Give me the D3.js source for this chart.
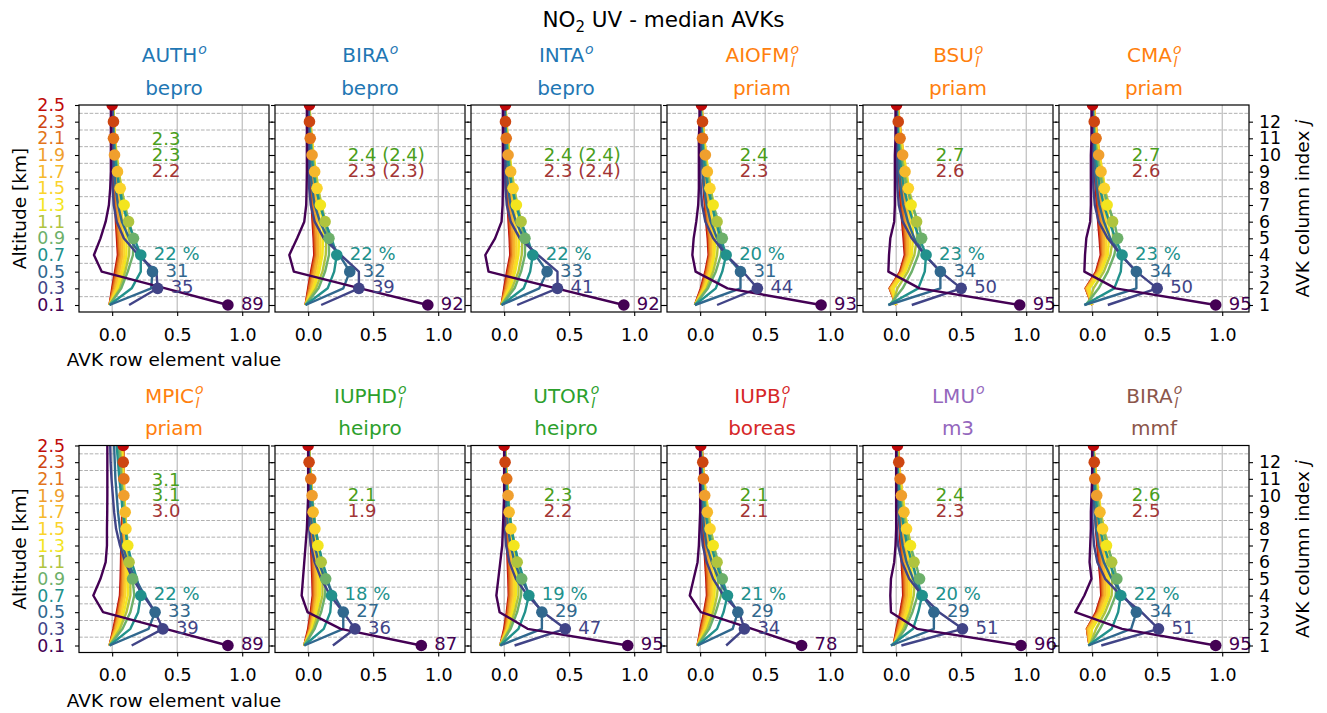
<!DOCTYPE html>
<html>
<head>
<meta charset="utf-8">
<script src="https://cdn.jsdelivr.net/npm/d3@7"></script>
<style>
  body { margin: 0; background: #fff; }
  text { font-family: "DejaVu Sans", sans-serif; }
</style>
</head>
<body>
<svg width="1327" height="713"></svg>
<script>
// layer centres and layer boundaries [km]
const altitudes = [0.1, 0.3, 0.5, 0.7, 0.9, 1.1, 1.3, 1.5, 1.7, 1.9, 2.1, 2.3, 2.5];
const boundaries = [0.2, 0.4, 0.6, 0.8, 1.0, 1.2, 1.4, 1.6, 1.8, 2.0, 2.2, 2.4];
const columnIndex = [1, 2, 3, 4, 5, 6, 7, 8, 9, 10, 11, 12];
const xTicks = [0.0, 0.5, 1.0];
const levelColors = ["#440154", "#414487", "#31688e", "#21918c", "#6db06a", "#b0c43e", "#f3e51e",
                     "#fbd42c", "#f6b92b", "#f09f2e", "#e2751b", "#cd4511", "#c00a0a"];

const panelNames = ["AUTH", "BIRA", "INTA", "AIOFM", "BSU", "CMA", "MPIC", "IUPHD", "UTOR", "IUPB", "LMU", "BIRA"];
const panelSub = [false, false, false, true, true, true, true, true, true, true, false, true];
const panelMethod = ["bepro", "bepro", "bepro", "priam", "priam", "priam", "priam", "heipro", "heipro", "boreas", "m3", "mmf"];
const methodColors = {bepro: "#1f77b4", priam: "#ff7f0e", heipro: "#2ca02c", boreas: "#d62728", m3: "#9467bd", mmf: "#8c564b"};
const dofsText = [
  ["2.3", "2.3", "2.2"], ["2.4 (2.4)", "2.3 (2.3)"], ["2.4 (2.4)", "2.3 (2.4)"], ["2.4", "2.3"], ["2.7", "2.6"], ["2.7", "2.6"],
  ["3.1", "3.1", "3.0"], ["2.1", "1.9"], ["2.3", "2.2"], ["2.1", "2.1"], ["2.4", "2.3"], ["2.6", "2.5"]
];
// diagonal labels for the four lowest layers (0.7, 0.5, 0.3, 0.1 km)
const diagLabels = [
  ["22 %", "31", "35", "89"], ["22 %", "32", "39", "92"], ["22 %", "33", "41", "92"], ["20 %", "31", "44", "93"],
  ["23 %", "34", "50", "95"], ["23 %", "34", "50", "95"], ["22 %", "33", "39", "89"], ["18 %", "27", "36", "87"],
  ["19 %", "29", "47", "95"], ["21 %", "29", "34", "78"], ["20 %", "29", "51", "96"], ["22 %", "34", "51", "95"]
];

// AVK rows (rows 0.1 .. 0.7 km), values at each altitude 0.1 .. 2.5 km
const lowAUTH = [
  [0.89, 0.41, -0.08, -0.14, -0.09, -0.05, -0.025, -0.015, -0.01, -0.01, -0.01, -0.01, -0.01],
  [0.13, 0.35, 0.34, 0.2, 0.09, 0.035, 0.012, 0.004, 0, 0, 0, 0, 0],
  [-0.02, 0.3, 0.31, 0.22, 0.13, 0.075, 0.045, 0.027, 0.016, 0.009, 0.005, 0.003, 0],
  [-0.02, 0.15, 0.22, 0.22, 0.17, 0.12, 0.08, 0.055, 0.035, 0.02, 0.012, 0.007, 0.003]
];
const lowBIRA = [
  [0.92, 0.40, -0.11, -0.145, -0.085, -0.03, -0.015, -0.012, -0.01, -0.01, -0.01, -0.01, -0.01],
  [0.10, 0.39, 0.39, 0.25, 0.12, 0.05, 0.02, 0.008, 0.003, 0, 0, 0, 0],
  [-0.02, 0.27, 0.32, 0.24, 0.15, 0.09, 0.05, 0.03, 0.018, 0.01, 0.005, 0.003, 0],
  [-0.02, 0.15, 0.2, 0.22, 0.18, 0.13, 0.09, 0.06, 0.04, 0.025, 0.015, 0.008, 0.004]
];
const lowINTA = [
  [0.92, 0.40, -0.12, -0.145, -0.07, -0.02, -0.012, -0.01, -0.01, -0.01, -0.01, -0.01, -0.01],
  [0.10, 0.41, 0.41, 0.26, 0.12, 0.05, 0.02, 0.01, 0.005, 0, 0, 0, 0],
  [-0.02, 0.27, 0.33, 0.24, 0.15, 0.09, 0.05, 0.03, 0.02, 0.01, 0.005, 0.005, 0],
  [-0.02, 0.15, 0.2, 0.22, 0.18, 0.13, 0.09, 0.06, 0.04, 0.025, 0.015, 0.01, 0.005]
];
const lowAIOFM = [
  [0.93, 0.21, -0.035, -0.06, -0.05, -0.03, -0.015, -0.01, -0.01, -0.01, -0.01, -0.005, -0.005],
  [0.13, 0.44, 0.33, 0.2, 0.1, 0.04, 0.015, 0.005, 0, 0, 0, 0, 0],
  [-0.04, 0.31, 0.31, 0.2, 0.13, 0.08, 0.05, 0.03, 0.02, 0.01, 0.005, 0.002, 0],
  [-0.04, 0.12, 0.17, 0.2, 0.16, 0.12, 0.09, 0.06, 0.04, 0.025, 0.015, 0.008, 0.004]
];
const lowBSU = [
  [0.95, 0.18, -0.06, -0.055, -0.045, -0.015, -0.01, -0.01, -0.01, -0.01, -0.005, -0.005, -0.005],
  [0.12, 0.50, 0.34, 0.22, 0.12, 0.05, 0.02, 0.01, 0.005, 0, 0, 0, 0],
  [-0.06, 0.34, 0.34, 0.22, 0.14, 0.09, 0.055, 0.035, 0.022, 0.012, 0.006, 0.003, 0],
  [-0.06, 0.17, 0.22, 0.23, 0.18, 0.13, 0.09, 0.06, 0.04, 0.025, 0.015, 0.008, 0.004]
];
const lowCMA = [
  [0.95, 0.18, -0.06, -0.055, -0.045, -0.015, -0.01, -0.01, -0.01, -0.01, -0.005, -0.005, -0.005],
  [0.12, 0.50, 0.34, 0.22, 0.12, 0.05, 0.02, 0.01, 0.005, 0, 0, 0, 0],
  [-0.06, 0.34, 0.34, 0.22, 0.14, 0.09, 0.055, 0.035, 0.022, 0.012, 0.006, 0.003, 0],
  [-0.06, 0.17, 0.22, 0.23, 0.18, 0.13, 0.09, 0.06, 0.04, 0.025, 0.015, 0.008, 0.004]
];
const lowMPIC = [
  [0.89, 0.41, -0.07, -0.145, -0.09, -0.05, -0.04, -0.04, -0.038, -0.037, -0.037, -0.037, -0.037],
  [0.15, 0.39, 0.33, 0.24, 0.16, 0.1, 0.06, 0.03, 0.015, 0.005, -0.005, -0.012, -0.015],
  [-0.02, 0.28, 0.33, 0.25, 0.18, 0.12, 0.08, 0.06, 0.045, 0.035, 0.025, 0.02, 0.015],
  [-0.02, 0.14, 0.2, 0.22, 0.19, 0.15, 0.12, 0.1, 0.08, 0.07, 0.055, 0.045, 0.035]
];
const lowIUPHD = [
  [0.87, 0.25, -0.005, -0.05, -0.04, -0.03, -0.02, -0.01, -0.005, 0, 0, 0, 0],
  [0.19, 0.36, 0.27, 0.17, 0.1, 0.05, 0.02, 0.008, 0.003, 0, 0, 0, 0],
  [-0.03, 0.27, 0.27, 0.2, 0.13, 0.08, 0.05, 0.03, 0.02, 0.01, 0.005, 0.002, 0],
  [-0.03, 0.12, 0.17, 0.18, 0.15, 0.11, 0.08, 0.055, 0.04, 0.025, 0.015, 0.008, 0.004]
];
const lowUTOR = [
  [0.95, 0.18, -0.035, -0.06, -0.045, -0.03, -0.015, -0.01, -0.005, 0, 0, 0, 0],
  [0.08, 0.47, 0.3, 0.18, 0.09, 0.04, 0.015, 0.005, 0, 0, 0, 0, 0],
  [-0.03, 0.29, 0.29, 0.2, 0.13, 0.08, 0.05, 0.03, 0.02, 0.01, 0.005, 0.002, 0],
  [-0.03, 0.11, 0.16, 0.19, 0.15, 0.11, 0.08, 0.055, 0.04, 0.025, 0.015, 0.008, 0.004]
];
const lowIUPB = [
  [0.78, 0.40, 0.005, -0.08, -0.05, -0.02, -0.01, -0.005, 0, 0, 0, 0, 0],
  [0.2, 0.34, 0.3, 0.18, 0.1, 0.05, 0.02, 0.008, 0.003, 0, 0, 0, 0],
  [-0.02, 0.25, 0.29, 0.21, 0.14, 0.09, 0.05, 0.03, 0.02, 0.01, 0.005, 0.002, 0],
  [-0.02, 0.13, 0.18, 0.21, 0.17, 0.12, 0.085, 0.06, 0.04, 0.025, 0.015, 0.008, 0.004]
];
const lowLMU = [
  [0.96, 0.16, -0.04, -0.045, -0.04, -0.015, -0.005, 0, 0, 0, 0, 0, 0],
  [0.04, 0.51, 0.33, 0.2, 0.1, 0.045, 0.015, 0.005, 0, 0, 0, 0, 0],
  [-0.04, 0.29, 0.29, 0.2, 0.13, 0.08, 0.05, 0.03, 0.02, 0.01, 0.005, 0.002, 0],
  [-0.04, 0.13, 0.17, 0.2, 0.16, 0.12, 0.085, 0.06, 0.04, 0.025, 0.015, 0.008, 0.004]
];
const lowMMF = [
  [0.95, 0.23, -0.13, -0.06, -0.005, -0.02, -0.015, -0.01, -0.01, -0.005, 0, 0, 0],
  [0.07, 0.51, 0.38, 0.22, 0.1, 0.04, 0.015, 0.005, 0, 0, 0, 0, 0],
  [-0.03, 0.3, 0.34, 0.24, 0.15, 0.09, 0.05, 0.03, 0.02, 0.01, 0.005, 0, 0],
  [-0.03, 0.15, 0.2, 0.22, 0.18, 0.13, 0.09, 0.06, 0.04, 0.025, 0.015, 0.01, 0.005]
];

// AVK rows (rows 0.9 .. 2.5 km)
const fanAUTH = [
  [-0.02, 0.07, 0.12, 0.16, 0.164, 0.13, 0.09, 0.06, 0.04, 0.025, 0.015, 0.01, 0.005],
  [-0.02, 0.06, 0.1, 0.13, 0.135, 0.126, 0.1, 0.07, 0.05, 0.03, 0.018, 0.01, 0.005],
  [-0.02, 0.045, 0.085, 0.11, 0.11, 0.105, 0.092, 0.072, 0.052, 0.034, 0.02, 0.012, 0.006],
  [-0.02, 0.035, 0.07, 0.095, 0.09, 0.08, 0.07, 0.062, 0.05, 0.034, 0.022, 0.013, 0.006],
  [-0.02, 0.025, 0.055, 0.08, 0.075, 0.064, 0.054, 0.047, 0.041, 0.032, 0.021, 0.013, 0.006],
  [-0.02, 0.018, 0.045, 0.068, 0.06, 0.05, 0.04, 0.032, 0.025, 0.018, 0.014, 0.01, 0.005],
  [-0.02, 0.01, 0.035, 0.058, 0.05, 0.04, 0.032, 0.024, 0.018, 0.013, 0.01, 0.008, 0.004],
  [-0.02, 0.005, 0.028, 0.05, 0.043, 0.034, 0.026, 0.019, 0.014, 0.011, 0.01, 0.01, 0.004],
  [-0.02, 0.0, 0.022, 0.044, 0.037, 0.029, 0.022, 0.016, 0.011, 0.008, 0.005, 0.003, 0.0]
];
const fanBepro = [
  [-0.02, 0.08, 0.13, 0.16, 0.16, 0.13, 0.095, 0.065, 0.045, 0.03, 0.02, 0.01, 0.005],
  [-0.02, 0.06, 0.11, 0.135, 0.14, 0.13, 0.105, 0.075, 0.055, 0.035, 0.02, 0.012, 0.006],
  [-0.02, 0.045, 0.085, 0.11, 0.115, 0.11, 0.094, 0.078, 0.06, 0.04, 0.025, 0.015, 0.008],
  [-0.02, 0.035, 0.07, 0.095, 0.095, 0.085, 0.077, 0.068, 0.056, 0.042, 0.028, 0.017, 0.009],
  [-0.02, 0.025, 0.055, 0.08, 0.08, 0.07, 0.062, 0.056, 0.05, 0.04, 0.028, 0.018, 0.01],
  [-0.02, 0.018, 0.045, 0.07, 0.066, 0.058, 0.05, 0.042, 0.036, 0.03, 0.024, 0.016, 0.01],
  [-0.02, 0.01, 0.035, 0.06, 0.056, 0.048, 0.04, 0.032, 0.026, 0.021, 0.016, 0.013, 0.01],
  [-0.02, 0.005, 0.028, 0.053, 0.048, 0.04, 0.033, 0.026, 0.02, 0.016, 0.013, 0.01, 0.01],
  [-0.02, 0.0, 0.022, 0.047, 0.042, 0.034, 0.027, 0.021, 0.016, 0.013, 0.011, 0.01, 0.01]
];
const fanAIOFM = [
  [-0.04, 0.06, 0.12, 0.16, 0.17, 0.14, 0.1, 0.07, 0.05, 0.03, 0.02, 0.01, 0.005],
  [-0.04, 0.05, 0.1, 0.13, 0.14, 0.13, 0.105, 0.08, 0.055, 0.035, 0.022, 0.012, 0.006],
  [-0.04, 0.04, 0.085, 0.11, 0.115, 0.11, 0.1, 0.082, 0.062, 0.042, 0.026, 0.015, 0.008],
  [-0.04, 0.03, 0.075, 0.1, 0.1, 0.09, 0.082, 0.075, 0.062, 0.046, 0.03, 0.018, 0.01],
  [-0.04, 0.025, 0.065, 0.09, 0.088, 0.076, 0.066, 0.06, 0.055, 0.045, 0.032, 0.02, 0.01],
  [-0.04, 0.02, 0.058, 0.082, 0.078, 0.066, 0.055, 0.048, 0.044, 0.04, 0.032, 0.02, 0.01],
  [-0.04, 0.015, 0.05, 0.075, 0.07, 0.058, 0.047, 0.038, 0.03, 0.024, 0.018, 0.015, 0.01],
  [-0.04, 0.01, 0.045, 0.07, 0.064, 0.052, 0.041, 0.032, 0.025, 0.02, 0.018, 0.018, 0.012],
  [-0.04, 0.005, 0.04, 0.065, 0.058, 0.046, 0.036, 0.027, 0.02, 0.016, 0.013, 0.011, 0.01]
];
const fanBSU = [
  [-0.05, 0.05, 0.12, 0.17, 0.196, 0.17, 0.12, 0.085, 0.055, 0.035, 0.02, 0.012, 0.006],
  [-0.03, 0.01, 0.09, 0.14, 0.16, 0.157, 0.13, 0.095, 0.065, 0.042, 0.025, 0.014, 0.007],
  [-0.01, -0.02, 0.07, 0.12, 0.13, 0.125, 0.115, 0.1, 0.075, 0.05, 0.03, 0.017, 0.008],
  [0.0, -0.035, 0.06, 0.105, 0.11, 0.105, 0.098, 0.094, 0.08, 0.058, 0.036, 0.02, 0.01],
  [0.0, -0.04, 0.05, 0.095, 0.095, 0.088, 0.08, 0.074, 0.068, 0.058, 0.04, 0.024, 0.011],
  [0.0, -0.045, 0.045, 0.085, 0.082, 0.074, 0.066, 0.058, 0.053, 0.05, 0.042, 0.027, 0.012],
  [0.0, -0.048, 0.04, 0.078, 0.072, 0.062, 0.052, 0.044, 0.037, 0.033, 0.03, 0.024, 0.012],
  [0.0, -0.05, 0.035, 0.072, 0.064, 0.053, 0.043, 0.034, 0.027, 0.021, 0.018, 0.016, 0.01],
  [0.0, -0.05, 0.03, 0.066, 0.057, 0.046, 0.036, 0.027, 0.02, 0.014, 0.009, 0.005, 0.003]
];
const fanMPIC = [
  [-0.02, 0.08, 0.14, 0.17, 0.157, 0.14, 0.12, 0.1, 0.09, 0.08, 0.07, 0.06, 0.05],
  [-0.02, 0.06, 0.11, 0.14, 0.14, 0.13, 0.12, 0.105, 0.095, 0.085, 0.075, 0.07, 0.06],
  [-0.02, 0.05, 0.09, 0.12, 0.12, 0.12, 0.12, 0.11, 0.1, 0.09, 0.08, 0.075, 0.07],
  [-0.02, 0.04, 0.075, 0.1, 0.105, 0.105, 0.106, 0.106, 0.1, 0.095, 0.085, 0.08, 0.075],
  [-0.02, 0.03, 0.065, 0.09, 0.095, 0.097, 0.098, 0.1, 0.1, 0.095, 0.09, 0.085, 0.08],
  [-0.02, 0.025, 0.055, 0.08, 0.085, 0.087, 0.088, 0.09, 0.09, 0.09, 0.088, 0.085, 0.08],
  [-0.02, 0.02, 0.048, 0.072, 0.077, 0.08, 0.082, 0.085, 0.087, 0.09, 0.09, 0.088, 0.085],
  [-0.02, 0.015, 0.042, 0.066, 0.071, 0.074, 0.076, 0.079, 0.082, 0.084, 0.085, 0.085, 0.085],
  [-0.02, 0.01, 0.036, 0.06, 0.065, 0.068, 0.07, 0.074, 0.077, 0.08, 0.083, 0.085, 0.085]
];
const fanHeipro = [
  [-0.03, 0.05, 0.1, 0.13, 0.135, 0.11, 0.08, 0.055, 0.04, 0.025, 0.015, 0.01, 0.005],
  [-0.03, 0.04, 0.08, 0.11, 0.11, 0.1, 0.08, 0.06, 0.04, 0.03, 0.02, 0.01, 0.005],
  [-0.03, 0.03, 0.065, 0.09, 0.09, 0.085, 0.075, 0.058, 0.042, 0.03, 0.02, 0.01, 0.005],
  [-0.03, 0.025, 0.055, 0.075, 0.075, 0.07, 0.06, 0.052, 0.042, 0.03, 0.02, 0.012, 0.005],
  [-0.03, 0.02, 0.045, 0.065, 0.065, 0.06, 0.05, 0.042, 0.038, 0.03, 0.02, 0.012, 0.005],
  [-0.03, 0.015, 0.04, 0.055, 0.055, 0.05, 0.045, 0.038, 0.033, 0.03, 0.022, 0.012, 0.005],
  [-0.03, 0.01, 0.03, 0.045, 0.045, 0.04, 0.035, 0.03, 0.025, 0.022, 0.02, 0.012, 0.005],
  [-0.03, 0.005, 0.025, 0.04, 0.038, 0.033, 0.028, 0.023, 0.018, 0.014, 0.01, 0.007, 0.003],
  [-0.03, 0.0, 0.02, 0.035, 0.032, 0.027, 0.022, 0.017, 0.012, 0.008, 0.005, 0.002, 0.0]
];
const fanBoreas = [
  [-0.02, 0.07, 0.12, 0.16, 0.17, 0.14, 0.1, 0.07, 0.045, 0.03, 0.018, 0.01, 0.005],
  [-0.02, 0.055, 0.1, 0.13, 0.14, 0.13, 0.108, 0.08, 0.055, 0.036, 0.022, 0.012, 0.006],
  [-0.02, 0.045, 0.085, 0.11, 0.115, 0.11, 0.1, 0.083, 0.062, 0.042, 0.026, 0.015, 0.007],
  [-0.02, 0.035, 0.072, 0.096, 0.097, 0.09, 0.082, 0.076, 0.063, 0.046, 0.03, 0.017, 0.008],
  [-0.02, 0.027, 0.06, 0.083, 0.082, 0.074, 0.066, 0.06, 0.055, 0.045, 0.032, 0.019, 0.009],
  [-0.02, 0.02, 0.05, 0.072, 0.07, 0.062, 0.053, 0.046, 0.04, 0.035, 0.03, 0.02, 0.01],
  [-0.02, 0.013, 0.042, 0.064, 0.06, 0.052, 0.044, 0.036, 0.03, 0.027, 0.025, 0.02, 0.01],
  [-0.02, 0.008, 0.035, 0.057, 0.053, 0.045, 0.037, 0.03, 0.025, 0.022, 0.02, 0.02, 0.012],
  [-0.02, 0.003, 0.03, 0.052, 0.047, 0.039, 0.031, 0.024, 0.018, 0.013, 0.009, 0.007, 0.005]
];
const fanM3 = [
  [-0.02, 0.07, 0.125, 0.165, 0.18, 0.15, 0.105, 0.072, 0.048, 0.03, 0.018, 0.01, 0.005],
  [-0.02, 0.055, 0.105, 0.135, 0.145, 0.137, 0.115, 0.085, 0.058, 0.038, 0.023, 0.013, 0.006],
  [-0.02, 0.045, 0.09, 0.115, 0.12, 0.115, 0.11, 0.09, 0.067, 0.045, 0.028, 0.016, 0.008],
  [-0.02, 0.035, 0.075, 0.1, 0.1, 0.094, 0.087, 0.08, 0.067, 0.05, 0.032, 0.018, 0.009],
  [-0.02, 0.027, 0.063, 0.087, 0.086, 0.078, 0.07, 0.064, 0.06, 0.05, 0.035, 0.02, 0.01],
  [-0.02, 0.02, 0.053, 0.076, 0.074, 0.066, 0.057, 0.05, 0.044, 0.04, 0.034, 0.022, 0.011],
  [-0.02, 0.013, 0.045, 0.067, 0.064, 0.056, 0.047, 0.039, 0.033, 0.03, 0.03, 0.024, 0.012],
  [-0.02, 0.008, 0.038, 0.06, 0.056, 0.048, 0.04, 0.032, 0.027, 0.023, 0.021, 0.02, 0.013],
  [-0.02, 0.003, 0.032, 0.054, 0.05, 0.042, 0.034, 0.026, 0.02, 0.016, 0.013, 0.011, 0.01]
];
const fanMMF = [
  [-0.02, 0.06, 0.13, 0.18, 0.19, 0.16, 0.115, 0.08, 0.055, 0.035, 0.02, 0.012, 0.006],
  [-0.02, 0.03, 0.1, 0.15, 0.155, 0.15, 0.125, 0.09, 0.062, 0.04, 0.024, 0.014, 0.007],
  [-0.02, 0.0, 0.08, 0.13, 0.13, 0.125, 0.11, 0.09, 0.068, 0.046, 0.028, 0.016, 0.008],
  [-0.02, -0.02, 0.065, 0.115, 0.115, 0.105, 0.095, 0.08, 0.068, 0.05, 0.032, 0.018, 0.009],
  [-0.02, -0.03, 0.055, 0.1, 0.1, 0.09, 0.08, 0.07, 0.06, 0.05, 0.035, 0.02, 0.01],
  [-0.02, -0.035, 0.048, 0.09, 0.088, 0.077, 0.066, 0.055, 0.045, 0.035, 0.03, 0.02, 0.01],
  [-0.02, -0.04, 0.042, 0.082, 0.078, 0.066, 0.054, 0.043, 0.034, 0.026, 0.02, 0.017, 0.01],
  [-0.02, -0.04, 0.036, 0.075, 0.07, 0.058, 0.046, 0.035, 0.027, 0.02, 0.017, 0.016, 0.01],
  [-0.02, -0.04, 0.03, 0.07, 0.063, 0.051, 0.039, 0.029, 0.021, 0.016, 0.013, 0.011, 0.01]
];

const matrices = [
  lowAUTH.concat(fanAUTH), lowBIRA.concat(fanBepro), lowINTA.concat(fanBepro),
  lowAIOFM.concat(fanAIOFM), lowBSU.concat(fanBSU), lowCMA.concat(fanBSU),
  lowMPIC.concat(fanMPIC), lowIUPHD.concat(fanHeipro), lowUTOR.concat(fanHeipro),
  lowIUPB.concat(fanBoreas), lowLMU.concat(fanM3), lowMMF.concat(fanMMF)
];

let svg = d3.select("svg"),
    W = 190, H = 207,
    colLeft = [79, 275, 471, 667, 863, 1059],
    rowTop = [105, 445.5],
    green = "#4a9e1c", brown = "#a23535";

let x = d3.scaleLinear().domain([-0.255, 1.206]).range([0, W]),
    y = d3.scaleLinear().domain([0.016, 2.5]).range([H, 0]);

let line = d3.line()
    .x(function(d) { return x(d); })
    .y(function(d, k) { return y(altitudes[k]); });

// main title
let title = svg.append("text")
    .attr("x", 663.5).attr("y", 27)
    .attr("text-anchor", "middle")
    .style("font-size", "21.5px");
title.append("tspan").text("NO");
title.append("tspan").text("2").style("font-size", "15px").attr("dy", 5);
title.append("tspan").text(" UV - median AVKs").attr("dy", -5);

function panelTitle(g, name, sub, method) {
    let color = methodColors[method];
    let t = g.append("g").attr("fill", color);
    let base = t.append("text").attr("y", -43).style("font-size", "20px").text(name);
    let w = base.node().getComputedTextLength();
    t.append("text").attr("x", w + 1).attr("y", -51.5)
        .style("font-size", "14px").style("font-style", "italic").text("o");
    if (sub) {
        t.append("text").attr("x", w + 1.5).attr("y", -38)
            .style("font-size", "14px").style("font-style", "italic").text("l");
    }
    t.attr("transform", "translate(" + (W / 2 - (w + 9) / 2) + ",0)");
    g.append("text")
        .attr("x", W / 2).attr("y", -10.5)
        .attr("text-anchor", "middle")
        .attr("fill", color)
        .style("font-size", "20px")
        .text(method);
}

matrices.forEach(function(avk, i) {
    let col = i % 6, row = Math.floor(i / 6);
    let g = svg.append("g").attr("transform", "translate(" + colLeft[col] + "," + rowTop[row] + ")");

    g.append("clipPath").attr("id", "clip" + i)
        .append("rect").attr("width", W).attr("height", H);

    // grid
    g.selectAll(".vgrid").data(xTicks).enter().append("line")
        .attr("x1", function(d) { return x(d); }).attr("x2", function(d) { return x(d); })
        .attr("y1", 0).attr("y2", H)
        .attr("stroke", "#b0b0b0").attr("stroke-width", 1);
    g.selectAll(".hgrid").data(boundaries).enter().append("line")
        .attr("x1", 0).attr("x2", W)
        .attr("y1", function(d) { return y(d); }).attr("y2", function(d) { return y(d); })
        .attr("stroke", "#b0b0b0").attr("stroke-width", 1)
        .attr("stroke-dasharray", "3.7,1.6");

    let plot = g.append("g").attr("clip-path", "url(#clip" + i + ")");
    let order = d3.range(avk.length).reverse();

    order.forEach(function(r) {
        plot.append("path")
            .attr("d", line(avk[r]))
            .attr("fill", "none")
            .attr("stroke", levelColors[r])
            .attr("stroke-width", 2.4)
            .attr("stroke-linejoin", "round");
    });
    order.forEach(function(r) {
        plot.append("circle")
            .attr("cx", x(avk[r][r])).attr("cy", y(altitudes[r]))
            .attr("r", 5.8)
            .attr("fill", levelColors[r]);
    });

    // diagonal labels for the lowest four layers
    [3, 2, 1, 0].forEach(function(r, k) {
        g.append("text")
            .attr("x", x(avk[r][r]) + 13)
            .attr("y", y(altitudes[r]) - 1.5)
            .attr("dy", "0.36em")
            .attr("fill", levelColors[r])
            .style("font-size", "18px")
            .text(diagLabels[i][k]);
    });

    // degrees of freedom
    let lines = dofsText[i];
    lines.forEach(function(s, k) {
        g.append("text")
            .attr("x", x(0.305))
            .attr("y", 71.5 - (lines.length - 1 - k) * 15.7)
            .attr("fill", k === lines.length - 1 ? brown : green)
            .style("font-size", "18px")
            .text(s);
    });

    // axes
    let left = g.append("g")
        .call(d3.axisLeft(y).tickValues(altitudes).tickSize(4).tickPadding(10)
            .tickFormat(col === 0 ? d3.format(".1f") : ""));
    let right = g.append("g").attr("transform", "translate(" + W + ",0)")
        .call(d3.axisRight(y).tickValues(altitudes.slice(0, 12)).tickSize(4).tickPadding(6)
            .tickFormat(function(d, k) { return col === 5 ? columnIndex[k] : ""; }));
    let bottom = g.append("g").attr("transform", "translate(0," + H + ")")
        .call(d3.axisBottom(x).tickValues(xTicks).tickSize(4).tickPadding(12.5)
            .tickFormat(d3.format(".1f")));

    [left, right, bottom].forEach(function(a) {
        a.select(".domain").remove();
        a.attr("font-family", "DejaVu Sans, sans-serif").attr("font-size", 17.4);
        a.selectAll("line").attr("stroke", "#000").attr("stroke-width", 1.1);
    });
    left.selectAll("text").attr("fill", function(d, k) { return levelColors[k]; });

    g.append("rect").attr("width", W).attr("height", H)
        .attr("fill", "none").attr("stroke", "#000").attr("stroke-width", 1.2);

    panelTitle(g, panelNames[i], panelSub[i], panelMethod[i]);

    if (col === 0) {
        g.append("text")
            .attr("x", W / 2).attr("y", H + 54)
            .attr("text-anchor", "middle")
            .style("font-size", "18.5px")
            .text("AVK row element value");
        g.append("text")
            .attr("transform", "translate(-53," + (H / 2) + ") rotate(-90)")
            .attr("text-anchor", "middle")
            .style("font-size", "18.5px")
            .text("Altitude [km]");
    }
    if (col === 5) {
        let t = g.append("text")
            .attr("transform", "translate(" + (W + 60) + "," + (H / 2) + ") rotate(-90)")
            .attr("text-anchor", "middle")
            .style("font-size", "18.5px");
        t.append("tspan").text("AVK column index ");
        t.append("tspan").style("font-style", "italic").text("j");
    }
});
</script>
</body>
</html>
